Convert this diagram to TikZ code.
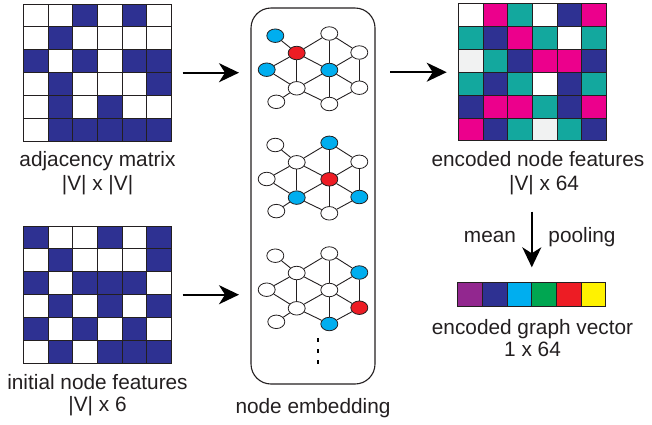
\documentclass[tikz,border=0pt]{standalone}
\usepackage{fontspec}
\setmainfont{Liberation Sans}
\usetikzlibrary{arrows.meta,shapes.geometric}

\definecolor{cW}{HTML}{FFFFFF}
\definecolor{cG}{HTML}{F1F2F2}
\definecolor{cN}{HTML}{2E3192}
\definecolor{cM}{HTML}{EC008C}
\definecolor{cT}{HTML}{13A89E}
\definecolor{cP}{HTML}{92278F}
\definecolor{cC}{HTML}{00AEEF}
\definecolor{cE}{HTML}{00A651}
\definecolor{cR}{HTML}{ED1C24}
\definecolor{cY}{HTML}{FFF200}
\definecolor{ink}{HTML}{231F20}

% grid of coloured cells: #1,#2 = top-left corner, #3 = cell height, #4 = rows of colour codes
\newcommand\cellgrid[4]{%
  \foreach \row [count=\r from 0] in {#4} {
    \foreach \cc [count=\k from 0] in \row {
      \path[cell, fill=c\cc] ({#1+\k*24.7},{#2+\r*#3}) rectangle ++(24.7,#3);
    }
  }%
}

\begin{document}
\begin{tikzpicture}[x=1pt, y=-1pt,
  cell/.style={draw=ink, line width=0.9pt},
  frame/.style={inner sep=0pt, outer sep=0pt, anchor=north west},
  lbl/.style={font=\fontsize{20.8}{24}\selectfont, text=ink, inner sep=0pt, anchor=base},
  flow/.style={draw=black, line width=2pt, -{Stealth[length=20pt, width=19pt, inset=6pt]}},
  atom/.style={ellipse, draw=ink, line width=0.8pt, fill=white,
               minimum width=17pt, minimum height=13.5pt, inner sep=0pt},
  nbr/.style={atom, fill=cC},
  hot/.style={atom, fill=cR},
  bond/.style={draw=ink, line width=0.9pt}
]
\useasboundingbox (0,0) rectangle (652,424);

% ---- adjacency matrix
\node[frame, minimum width=148.2pt, minimum height=137.4pt] (adj) at (23.3,4) {};
\cellgrid{23.3}{4}{22.9}{{W,W,N,W,N,W},{W,N,W,W,W,W},{N,W,N,W,N,N},{W,N,W,W,W,N},{W,N,W,N,W,W},{W,N,N,N,N,N}}
\node[lbl] (adjname) at (97.5,166) {adjacency matrix};
\node[lbl] (adjsize) at (97.5,190.5) {|V| x |V|};

% ---- initial node features
\node[frame, minimum width=148.2pt, minimum height=137.4pt] (feat) at (23.3,226) {};
\cellgrid{23.3}{226}{22.9}{{N,W,W,N,W,N},{W,N,W,W,W,N},{N,W,N,N,N,W},{W,N,W,N,W,N},{N,W,N,W,N,W},{W,N,W,N,N,N}}
\node[lbl] (featname) at (97.5,389.3) {initial node features};
\node[lbl] (featsize) at (97.5,411.7) {|V| x 6};

% ---- node embedding panel
\node[frame, draw=ink, line width=1.1pt, rounded corners=20pt,
      minimum width=124pt, minimum height=376pt] (embed) at (251,8) {};
\node[lbl] (embedname) at (313,413) {node embedding};

% three message-passing snapshots of the same graph
\foreach \g/\cy/\sc/\st/\srt/\srb/\sb/\slb/\slt/\sl/\spa/\spb in {
  1/70/nbr/atom/atom/atom/atom/atom/hot/nbr/nbr/atom,
  2/179.3/hot/nbr/atom/nbr/atom/nbr/atom/atom/atom/atom,
  3/290/atom/atom/nbr/hot/nbr/atom/atom/atom/atom/atom}
{
  \begin{scope}[shift={(329.3,\cy)}]
    \node[\sc]  (g\g c)  at (0,0)        {};
    \node[\st]  (g\g t)  at (0,-36.5)    {};
    \node[\srt] (g\g rt) at (30,-17.5)   {};
    \node[\srb] (g\g rb) at (30,17.7)    {};
    \node[\sb]  (g\g b)  at (0,34)       {};
    \node[\slb] (g\g lb) at (-32.6,18.3) {};
    \node[\slt] (g\g lt) at (-32.6,-17)  {};
    \node[\sl]  (g\g l)  at (-62.6,-0.3) {};
    \node[\spa] (g\g pa) at (-54,-34.3)  {};
    \node[\spb] (g\g pb) at (-53,31.8)   {};
  \end{scope}
  \foreach \a/\b in {c/t,c/rt,c/rb,c/b,c/lb,c/lt,t/rt,rt/rb,rb/b,b/lb,lb/lt,lt/t,lt/pa,lt/l,l/lb,lb/pb}
    \draw[bond] (g\g\a) -- (g\g\b);
}
\draw[draw=black, line width=2.6pt, dash pattern=on 4pt off 7pt] (318,338.3) -- (318,364.5);

% ---- encoded node features
\node[frame, minimum width=148.2pt, minimum height=137.4pt] (enc) at (458.3,3.5) {};
\cellgrid{458.3}{3.5}{22.9}{{W,M,T,W,N,M},{T,N,M,T,W,T},{G,T,N,M,M,N},{T,N,T,W,N,T},{N,M,M,T,N,M},{M,N,T,G,T,N}}
\node[lbl] (encname) at (538,166) {encoded node features};
\node[lbl] (encsize) at (544,190.5) {|V| x 64};

% ---- pooled graph vector
\node[frame, minimum width=148.2pt, minimum height=24pt] (vec) at (457.7,282.7) {};
\cellgrid{457.7}{282.7}{24}{{P,N,C,E,R,Y}}
\node[lbl] (vecname) at (532.5,334.3) {encoded graph vector};
\node[lbl] (vecsize) at (532.5,356.7) {1 x 64};

% ---- arrows
\draw[flow, shorten <=11pt, shorten >=12pt] (adj.east) -- (adj.east -| embed.west);
\draw[flow, shorten <=11pt, shorten >=12pt] (feat.east) -- (feat.east -| embed.west);
\draw[flow, shorten <=15pt, shorten >=11.6pt] (embed.east |- enc.west) -- (enc.west);
\draw[flow, shorten <=21pt, shorten >=15.4pt] (vec.north |- encsize.base) -- (vec.north);
\node[lbl] (mean) at (490,242.7) {mean};
\node[lbl] (pool) at (582,242.7) {pooling};
\end{tikzpicture}
\end{document}
